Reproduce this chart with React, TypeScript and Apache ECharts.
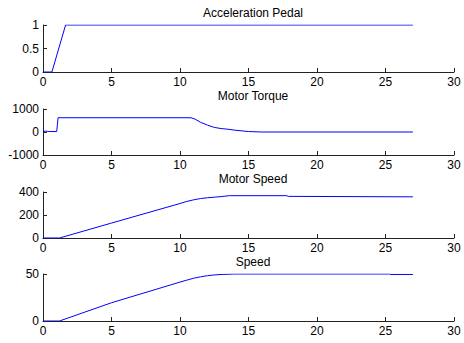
import React, { useEffect, useRef } from "react";
import * as echarts from "echarts";

const titles = ["Acceleration Pedal", "Motor Torque", "Motor Speed", "Speed"];

const pedalTime = [0, 0.65, 1.65, 27];
const pedalValue = [0, 0, 1, 1];

const torqueTime = [0, 0.15, 0.3, 0.5, 1.0, 1.05, 1.1, 10.8, 11.1, 11.5, 12, 12.5, 13, 13.5, 14, 15, 16, 27];
const torqueValue = [0, 40, 30, 20, 20, 300, 620, 620, 560, 420, 300, 200, 150, 120, 80, 20, 0, 0];

const motorSpeedTime = [0, 1.2, 5, 10, 10.5, 11, 11.5, 12, 12.5, 13, 13.6, 17.8, 17.9, 27];
const motorSpeedValue = [0, 0, 130, 300, 318, 332, 343, 350, 355, 360, 368, 368, 362, 358];

const speedTime = [0, 1.2, 5, 10, 10.5, 11, 11.5, 12, 12.5, 13, 14, 25.3, 25.4, 27];
const speedValue = [0, 0, 19.4, 41.4, 43.5, 45.5, 47, 48.2, 49, 49.5, 50, 50, 49.5, 49.5];

const xTicks = { min: 0, max: 30, interval: 5 };
const yRanges = [
  { min: 0, max: 1, interval: 0.5 },
  { min: -1000, max: 1000, interval: 1000 },
  { min: 0, max: 400, interval: 200 },
  { min: 0, max: 50, interval: 50 },
];

const gridTops = [25, 109, 192, 274];
const gridHeights = [47, 46, 46, 47];
const titleTops = [2, 85, 168, 251];

const FONT = "Arial, 'Liberation Sans', sans-serif";

export default function App() {
  const ref = useRef<HTMLDivElement>(null);
  useEffect(() => {
    if (!ref.current) return;
    const chart = echarts.init(ref.current, undefined, { renderer: "svg" });
    const seriesData = [
      [pedalTime, pedalValue],
      [torqueTime, torqueValue],
      [motorSpeedTime, motorSpeedValue],
      [speedTime, speedValue],
    ];
    const axisLine = { show: true, onZero: false, lineStyle: { color: "#222", width: 1 } };
    const axisLabel = {
      color: "#000",
      fontSize: 12,
      fontFamily: FONT,
      formatter: (v: number) => String(v),
    };
    chart.setOption({
      animation: false,
      backgroundColor: "#fff",
      title: titles.map((t, i) => ({
        text: t,
        left: 248,
        textAlign: "center",
        top: titleTops[i],
        textStyle: { fontSize: 12, fontWeight: "normal", color: "#000", fontFamily: FONT },
      })),
      grid: gridTops.map((top, i) => ({ left: 43, right: 10, top, height: gridHeights[i] })),
      xAxis: gridTops.map((_, i) => ({
        type: "value",
        gridIndex: i,
        ...xTicks,
        axisLine,
        axisTick: { show: true, inside: true, length: 4, lineStyle: { color: "#222" } },
        axisLabel: { ...axisLabel, margin: 4 },
        splitLine: { show: false },
      })),
      yAxis: yRanges.map((r, i) => ({
        type: "value",
        gridIndex: i,
        ...r,
        axisLine,
        axisTick: { show: true, inside: true, length: 4, lineStyle: { color: "#222" } },
        axisLabel: { ...axisLabel, margin: 4 },
        splitLine: { show: false },
      })),
      series: seriesData.map(([ts, vs], i) => ({
        type: "line",
        xAxisIndex: i,
        yAxisIndex: i,
        data: ts.map((t, k) => [t, vs[k]]),
        showSymbol: false,
        lineStyle: { color: "#0000ff", width: 1 },
        silent: true,
      })),
    });
    return () => chart.dispose();
  }, []);
  return (
    <div
      ref={ref}
      style={{ position: "fixed", left: 0, top: 0, width: 464, height: 343, background: "#fff" }}
    />
  );
}
